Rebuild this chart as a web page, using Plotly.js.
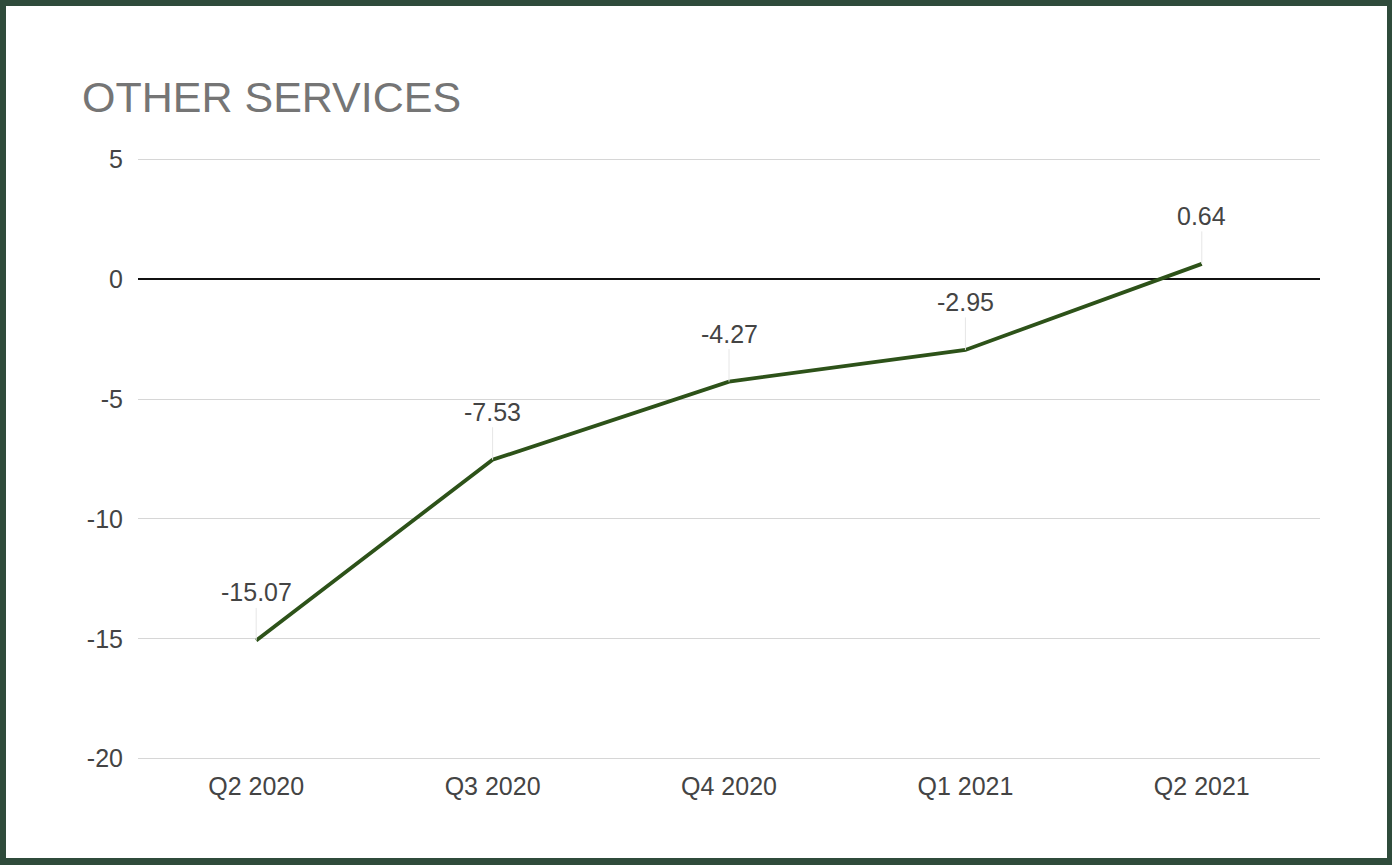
<!DOCTYPE html>
<html>
<head>
<meta charset="utf-8">
<script src="https://cdn.plot.ly/plotly-3.0.1.min.js"></script>
<style>
html,body{margin:0;padding:0;background:#fff;}
#wrap{position:relative;width:1392px;height:865px;}
#chart{width:1392px;height:865px;}
#frame{position:absolute;left:0;top:0;width:1392px;height:865px;box-sizing:border-box;border-style:solid;border-color:#2f4b3b;border-width:6px 5px 7px 6px;pointer-events:none;}
</style>
</head>
<body>
<div id="wrap"><div id="chart"></div><div id="frame"></div></div>
<script>
const categories = ["Q2 2020", "Q3 2020", "Q4 2020", "Q1 2021", "Q2 2021"];
const values = [-15.07, -7.53, -4.27, -2.95, 0.64];
const yTickVals = [-20, -15, -10, -5, 0, 5];
const yTickText = ["-20", "-15", "-10", "-5", "0", "5"];
const chartTitle = "OTHER SERVICES";

const FONT = "Liberation Sans, Arial, sans-serif";

const trace = {
  x: categories,
  y: values,
  type: "scatter",
  mode: "lines",
  line: {color: "#2d5219", width: 3.8},
  hoverinfo: "x+y"
};

const annotations = categories.map((c, i) => ({
  x: c, y: values[i], xref: "x", yref: "y",
  text: values[i].toFixed(2),
  showarrow: true, arrowhead: 0, arrowwidth: 1, arrowcolor: "#e6e6e6",
  ax: 0, ay: -48,
  font: {family: FONT, size: 25, color: "#444444"}
}));

const layout = {
  width: 1392, height: 865,
  paper_bgcolor: "#ffffff", plot_bgcolor: "#ffffff",
  margin: {l: 138, r: 72, t: 157, b: 104},
  showlegend: false,
  title: {
    text: chartTitle,
    font: {family: FONT, size: 43, color: "#757575"},
    xref: "container", yref: "container",
    x: 82/1392, xanchor: "left",
    y: 1 - 97/865, yanchor: "middle"
  },
  xaxis: {
    type: "category",
    range: [-0.5, 4.5],
    showgrid: false, zeroline: false, showline: false,
    ticks: "",
    tickfont: {family: FONT, size: 25, color: "#444444"},
    ticklabelstandoff: 8,
    fixedrange: true
  },
  yaxis: {
    range: [-20.1, 5.1],
    tickvals: yTickVals, ticktext: yTickText,
    showgrid: true, gridcolor: "#d6d6d6", gridwidth: 1,
    zeroline: true, zerolinecolor: "#111111", zerolinewidth: 1.5,
    showline: false, ticks: "",
    tickfont: {family: FONT, size: 25, color: "#444444"},
    ticklabelstandoff: 14,
    fixedrange: true
  },
  annotations: annotations
};

Plotly.newPlot("chart", [trace], layout, {displayModeBar: false, staticPlot: true});
</script>
</body>
</html>
